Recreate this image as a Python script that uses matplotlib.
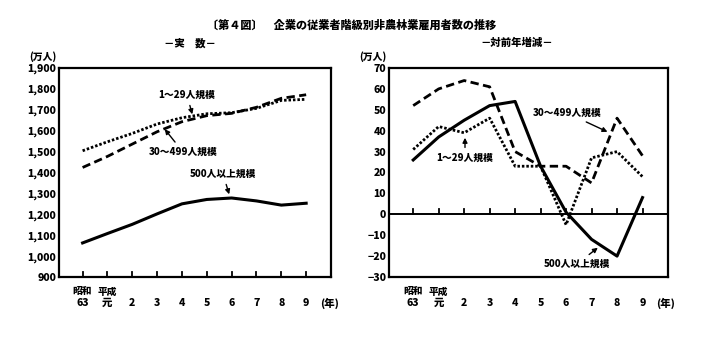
import matplotlib
matplotlib.use("Agg")
import matplotlib.pyplot as plt

plt.rcParams['font.family'] = ['Noto Sans CJK JP', 'DejaVu Sans']
plt.rcParams['font.weight'] = 'heavy'

years_top = ["昭和", "平成", "", "", "", "", "", "", "", ""]
years_bottom = ["63", "元", "2", "3", "4", "5", "6", "7", "8", "9"]

# 実数 (万人)
level_1_29 = [1504, 1547, 1587, 1632, 1662, 1681, 1686, 1707, 1745, 1750]
level_30_499 = [1424, 1477, 1536, 1595, 1643, 1672, 1683, 1712, 1755, 1772]
level_500 = [1063, 1108, 1152, 1202, 1250, 1271, 1278, 1264, 1244, 1253]

# 対前年増減 (万人)
chg_1_29 = [31, 42, 39, 46, 23, 23, -5, 27, 30, 18]
chg_30_499 = [52, 60, 64, 61, 30, 23, 23, 15, 46, 28]
chg_500 = [26, 37, 45, 52, 54, 23, 1, -12, -20, 8]

left_yticks = [900, 1000, 1100, 1200, 1300, 1400, 1500, 1600, 1700, 1800, 1900]
right_yticks = [-30, -20, -10, 0, 10, 20, 30, 40, 50, 60, 70]

W, H = 715, 339
fig = plt.figure(figsize=(W / 100, H / 100), dpi=100)

def fx(px):
    return px / W

def fy(py):
    return 1 - py / H

axL = fig.add_axes([fx(59), fy(277), fx(331) - fx(59), fy(68) - fy(277)])
axR = fig.add_axes([fx(389), fy(277), fx(668) - fx(389), fy(68) - fy(277)])

x = list(range(len(years_bottom)))

styles = {
    'solid': dict(color='black', lw=2.2, linestyle='-'),
    'dashed': dict(color='black', lw=2.0, linestyle=(0, (3.0, 1.6))),
    'dotted': dict(color='black', lw=2.0, linestyle=(0, (0.9, 0.7))),
}

W_BOLD = 'heavy'

for ax in (axL, axR):
    for s in ax.spines.values():
        s.set_linewidth(1.6)
    ax.set_xlim(-0.95, 10.0)
    ax.set_xticks([])
    ax.tick_params(axis='y', length=0, labelsize=7.5, pad=2)

# Left chart
axL.plot(x, level_1_29, **styles['dotted'])
axL.plot(x, level_30_499, **styles['dashed'])
axL.plot(x, level_500, **styles['solid'])
axL.set_ylim(900, 1900)
axL.set_yticks(left_yticks)
axL.set_yticklabels([f"{v:,}" for v in left_yticks], fontweight=W_BOLD)
for xi in x:
    axL.plot([xi, xi], [900, 925], color='black', lw=1.3)

# Right chart
axR.plot(x, chg_1_29, **styles['dotted'])
axR.plot(x, chg_30_499, **styles['dashed'])
axR.plot(x, chg_500, **styles['solid'])
axR.axhline(0, color='black', lw=1.4)
axR.set_ylim(-30, 70)
axR.set_yticks(right_yticks)
axR.set_yticklabels([f"{v}".replace('-', '−') for v in right_yticks], fontweight=W_BOLD)
for xi in x:
    axR.plot([xi, xi], [0, 2.5], color='black', lw=1.3)

# x labels
for ax in (axL, axR):
    for xi, (t, b) in enumerate(zip(years_top, years_bottom)):
        if t:
            ax.text(xi, -0.045, t, transform=ax.get_xaxis_transform(), ha='center', va='top',
                    fontsize=7, fontweight=W_BOLD)
        ax.text(xi, -0.10, b, transform=ax.get_xaxis_transform(), ha='center', va='top',
                fontsize=7.5, fontweight=W_BOLD)
    ax.text(9.55, -0.10, "(年)", transform=ax.get_xaxis_transform(), ha='left', va='top',
            fontsize=7.5, fontweight=W_BOLD, clip_on=False)

# Titles
fig.text(fx(352), fy(25), "〔第４図〕　企業の従業者階級別非農林業雇用者数の推移", ha='center', va='center',
         fontsize=8, fontweight=W_BOLD)
fig.text(fx(190), fy(43), "－実　数－", ha='center', va='center', fontsize=7.5, fontweight=W_BOLD)
fig.text(fx(517), fy(43), "－対前年増減－", ha='center', va='center', fontsize=7.5, fontweight=W_BOLD)
fig.text(fx(43), fy(57), "(万人)", ha='center', va='center', fontsize=7, fontweight=W_BOLD)
fig.text(fx(373), fy(57), "(万人)", ha='center', va='center', fontsize=7, fontweight=W_BOLD)

arrow = dict(arrowstyle='-|>', color='black', lw=1.0, mutation_scale=7)

def annot(ax, text, tip_px, txt_px):
    ax.annotate(text, xy=(fx(tip_px[0]), fy(tip_px[1])), xycoords='figure fraction',
                xytext=(fx(txt_px[0]), fy(txt_px[1])), textcoords='figure fraction',
                ha='center', va='center', fontsize=7, fontweight=W_BOLD,
                arrowprops=arrow)

annot(axL, "1～29人規模", (193, 117), (187, 95))
annot(axL, "30～499人規模", (163, 127), (183, 152))
annot(axL, "500人以上規模", (230, 197), (223, 174))
annot(axR, "30～499人規模", (610, 133), (567, 113))
annot(axR, "1～29人規模", (465, 135), (465, 158))
annot(axR, "500人以上規模", (600, 246), (577, 264))

fig.savefig("out.png", dpi=100)
